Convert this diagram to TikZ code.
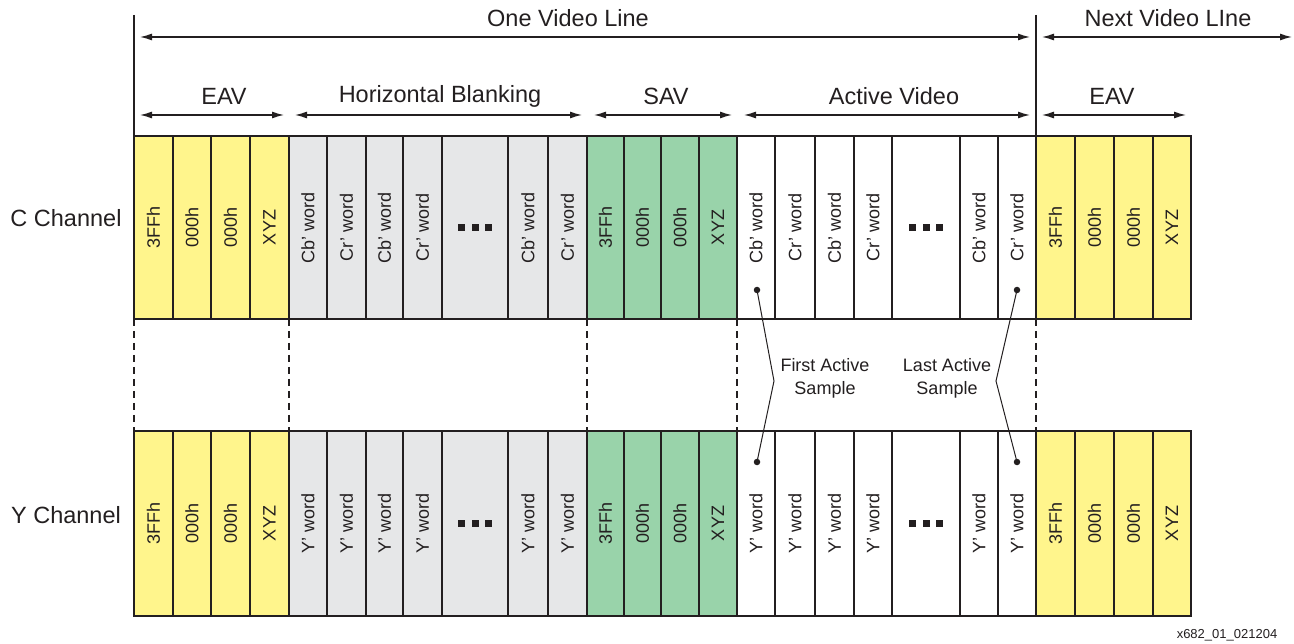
\documentclass[tikz,border=0pt]{standalone}
\usepackage{fontspec}
\setmainfont{Liberation Sans}
\usetikzlibrary{arrows.meta}
\definecolor{eavy}{RGB}{255,245,140}
\definecolor{blankg}{RGB}{230,231,232}
\definecolor{savg}{RGB}{153,211,170}
\definecolor{ink}{RGB}{35,31,32}
\newcommand\dotsq{\rule{7pt}{7pt}\hspace{6.5pt}\rule{7pt}{7pt}\hspace{6.5pt}\rule{7pt}{7pt}}
\begin{document}
\begin{tikzpicture}[x=1pt,y=-1pt,
  cellbox/.style={draw=ink, line width=2.6pt, inner sep=0pt, outer sep=0pt},
  celltext/.style={rotate=90, text=ink, font=\fontsize{18}{20}\selectfont, inner sep=0pt},
  biglabel/.style={text=ink, font=\fontsize{23.5}{27}\selectfont, inner sep=0pt},
  notelabel/.style={text=ink, font=\fontsize{18}{23}\selectfont, align=center, inner sep=0pt},
  spanarrow/.style={draw=ink, line width=1.3pt, {Latex[length=12pt,width=7pt]}-{Latex[length=12pt,width=7pt]}},
  divider/.style={draw=ink, line width=2.6pt},
  gapline/.style={draw=ink, line width=2pt, dash pattern=on 7pt off 5pt},
  leader/.style={draw=ink, line width=1pt},
  anchordot/.style={circle, fill=ink, inner sep=0pt, minimum size=6.5pt},
  ellip/.style={text=ink, inner sep=0pt}
]
\useasboundingbox (0,0) rectangle (1294,644);

% cells
\foreach \i/\xa/\xb/\col/\ct/\yt in {
1/134/173/eavy/3FFh/3FFh, 2/173/211/eavy/000h/000h, 3/211/250/eavy/000h/000h, 4/250/289/eavy/XYZ/XYZ,
5/289/327/blankg/Cb’ word/Y’ word, 6/327/366/blankg/Cr’ word/Y’ word, 7/366/403/blankg/Cb’ word/Y’ word, 8/403/442/blankg/Cr’ word/Y’ word, 9/442/508/blankg//, 10/508/548/blankg/Cb’ word/Y’ word, 11/548/587/blankg/Cr’ word/Y’ word,
12/587/624/savg/3FFh/3FFh, 13/624/661/savg/000h/000h, 14/661/699/savg/000h/000h, 15/699/737/savg/XYZ/XYZ,
16/737/775/white/Cb’ word/Y’ word, 17/775/815/white/Cr’ word/Y’ word, 18/815/854/white/Cb’ word/Y’ word, 19/854/892/white/Cr’ word/Y’ word, 20/892/960/white//, 21/960/998/white/Cb’ word/Y’ word, 22/998/1036/white/Cr’ word/Y’ word,
23/1036/1075/eavy/3FFh/3FFh, 24/1075/1114/eavy/000h/000h, 25/1114/1153/eavy/000h/000h, 26/1153/1191/eavy/XYZ/XYZ}
{
  \node[cellbox, fill=\col, minimum width={(\xb-\xa)*1pt}, minimum height=183pt] (c\i) at ({(\xa+\xb)/2},227.5) {};
  \node[celltext] (ct\i) at (c\i.center) {\ct};
  \node[cellbox, fill=\col, minimum width={(\xb-\xa)*1pt}, minimum height=185pt] (y\i) at ({(\xa+\xb)/2},523.5) {};
  \node[celltext] (yt\i) at (y\i.center) {\yt};
}

% ellipses
\node[ellip] (cd9) at (c9.center) {\dotsq};
\node[ellip] (yd9) at (y9.center) {\dotsq};
\node[ellip] (cd20) at (c20.center) {\dotsq};
\node[ellip] (yd20) at (y20.center) {\dotsq};

% channel labels
\node[biglabel] (cch) at (66,218) {C Channel};
\node[biglabel] (ych) at (66,515) {Y Channel};

% top boundary lines
\coordinate (t0) at (134,15);
\coordinate (t1) at (1036,15);
\draw[divider] (t0) -- (c1.north west);
\draw[divider] (t1) -- (c23.north west);

% span arrows (top row)
\coordinate (a1) at (140,37);
\coordinate (a2) at (1030,37);
\coordinate (a3) at (1042,37);
\coordinate (a4) at (1292,37);
\draw[spanarrow] (a1) -- (a2);
\draw[spanarrow] (a3) -- (a4);
\node[biglabel] (lone) at (568,18.5) {One Video Line};
\node[biglabel] (lnext) at (1168,18.5) {Next Video LIne};

% span arrows (second row)
\coordinate (b1) at (140,115);  \coordinate (b2) at (284,115);
\coordinate (b3) at (295,115);  \coordinate (b4) at (582,115);
\coordinate (b5) at (594,115);  \coordinate (b6) at (732,115);
\coordinate (b7) at (744,115);  \coordinate (b8) at (1030,115);
\coordinate (b9) at (1042,115); \coordinate (b10) at (1186,115);
\draw[spanarrow] (b1) -- (b2);
\draw[spanarrow] (b3) -- (b4);
\draw[spanarrow] (b5) -- (b6);
\draw[spanarrow] (b7) -- (b8);
\draw[spanarrow] (b9) -- (b10);
\node[biglabel] (leav) at (224,96.5) {EAV};
\node[biglabel] (lhb) at (440,96.5) {Horizontal Blanking};
\node[biglabel] (lsav) at (666,96.5) {SAV};
\node[biglabel] (lav) at (894,96.5) {Active Video};
\node[biglabel] (leav2) at (1112,96.5) {EAV};

% dashed links between channels
\draw[gapline] (c1.south west) -- (y1.north west);
\draw[gapline] (c4.south east) -- (y4.north east);
\draw[gapline] (c11.south east) -- (y11.north east);
\draw[gapline] (c15.south east) -- (y15.north east);
\draw[gapline] (c22.south east) -- (y22.north east);

% first / last active sample
\node[anchordot] (fa) at (757,290) {};
\node[anchordot] (fb) at (757,462) {};
\node[anchordot] (la) at (1017,290) {};
\node[anchordot] (lb) at (1017,462) {};
\coordinate (fk) at (774,381);
\coordinate (lk) at (996,381);
\draw[leader] (fa.center) -- (fk) -- (fb.center);
\draw[leader] (la.center) -- (lk) -- (lb.center);
\node[notelabel] (nfirst) at (825,378) {First Active\\Sample};
\node[notelabel] (nlast) at (947,378) {Last Active\\Sample};

% figure id
\node[text=ink, font=\fontsize{13}{15}\selectfont, inner sep=0pt] (figid) at (1227,635) {x682\_01\_021204};
\end{tikzpicture}
\end{document}
